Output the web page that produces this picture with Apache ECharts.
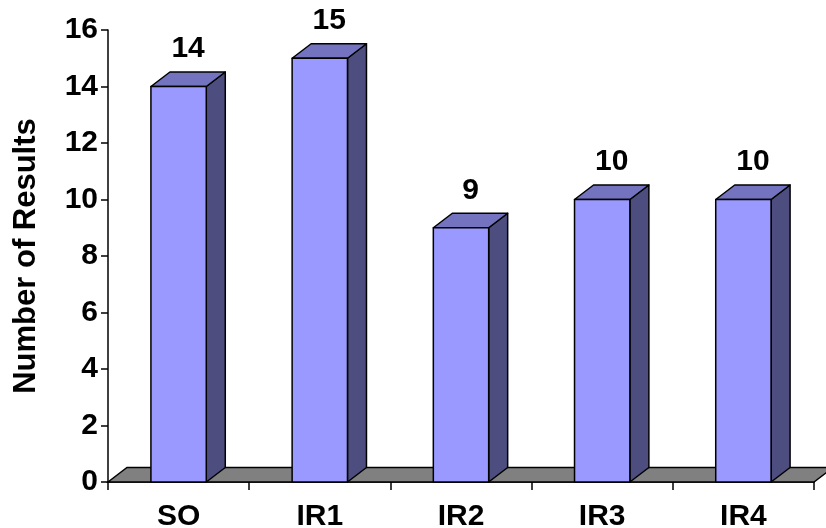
<!DOCTYPE html>
<html>
<head>
<meta charset="utf-8">
<script src="https://cdn.jsdelivr.net/npm/echarts@6/dist/echarts.min.js"></script>
<style>
  html, body { margin: 0; padding: 0; background: #fff; }
  #chart { width: 826px; height: 528px; }
</style>
</head>
<body>
<div id="chart"></div>
<script>
const categories = ['SO', 'IR1', 'IR2', 'IR3', 'IR4'];
const results = [14, 15, 9, 10, 10];
const yTicks = { min: 0, max: 16, interval: 2 };

// fake 3d depth of the boxes and floor
const DX = 19;
const DY = 14.5;
const FONT = 'Liberation Sans, Arial, sans-serif';

const chart = echarts.init(document.getElementById('chart'));

function renderFloor(params, api) {
  const cs = params.coordSys;
  const x0 = cs.x, x1 = cs.x + cs.width, y = cs.y + cs.height;
  return {
    type: 'polygon',
    shape: { points: [[x0, y], [x0 + DX, y - DY], [x1 + DX, y - DY], [x1, y]] },
    style: { fill: '#808080', stroke: '#000', lineWidth: 1.5 }
  };
}

function renderBox(params, api) {
  const base = api.coord([api.value(0), 0]);
  const top = api.coord([api.value(0), api.value(1)]);
  const hw = api.size([1, 0])[0] * 0.196;
  const l = base[0] - hw, r = base[0] + hw;
  const yb = base[1], yt = top[1];
  const edge = { stroke: '#000', lineWidth: 1.5, lineJoin: 'round' };
  return {
    type: 'group',
    children: [
      {
        type: 'polygon',
        shape: { points: [[r, yt], [r + DX, yt - DY], [r + DX, yb - DY], [r, yb]] },
        style: Object.assign({ fill: '#4D4D80' }, edge)
      },
      {
        type: 'polygon',
        shape: { points: [[l, yt], [l + DX, yt - DY], [r + DX, yt - DY], [r, yt]] },
        style: Object.assign({ fill: '#7373BF' }, edge)
      },
      {
        type: 'rect',
        shape: { x: l, y: yt, width: r - l, height: yb - yt },
        style: Object.assign({ fill: '#9999FF' }, edge)
      },
      {
        type: 'text',
        x: base[0] + DX / 2,
        y: yt - DY - 23,
        style: {
          text: String(api.value(1)),
          fill: '#000',
          font: 'bold 30px ' + FONT,
          align: 'center',
          verticalAlign: 'middle'
        }
      }
    ]
  };
}

const option = {
  animation: false,
  grid: { left: 108, right: 12, top: 30, bottom: 46, outerBoundsMode: 'none', containLabel: false },
  xAxis: {
    type: 'category',
    data: categories,
    axisLine: { lineStyle: { color: '#000', width: 1.5 } },
    axisTick: { show: true, length: 8, lineStyle: { color: '#000', width: 1.5 } },
    axisLabel: {
      color: '#000',
      fontFamily: FONT,
      fontWeight: 'bold',
      fontSize: 30,
      margin: 20
    }
  },
  yAxis: {
    type: 'value',
    min: yTicks.min,
    max: yTicks.max,
    interval: yTicks.interval,
    name: 'Number of Results',
    nameLocation: 'middle',
    nameRotate: 90,
    nameGap: 66,
    nameTextStyle: {
      color: '#000',
      fontFamily: FONT,
      fontWeight: 'bold',
      fontSize: 31
    },
    axisLine: { show: true, lineStyle: { color: '#000', width: 1.5 } },
    axisTick: { show: true, length: 7, lineStyle: { color: '#000', width: 1.5 } },
    axisLabel: {
      color: '#000',
      fontFamily: FONT,
      fontWeight: 'bold',
      fontSize: 30,
      margin: 10
    },
    splitLine: { show: false }
  },
  series: [
    {
      type: 'custom',
      z: 1,
      renderItem: renderFloor,
      data: [[0, 0]],
      silent: true
    },
    {
      type: 'custom',
      z: 3,
      renderItem: renderBox,
      data: results.map((v, i) => [i, v]),
      encode: { x: 0, y: 1 }
    }
  ]
};

chart.setOption(option);
window.addEventListener('resize', () => chart.resize());
</script>
</body>
</html>
